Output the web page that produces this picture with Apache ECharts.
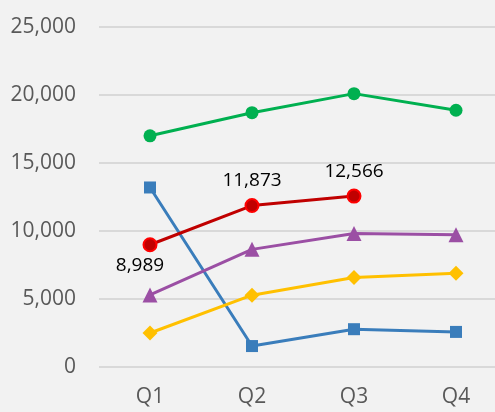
<!DOCTYPE html>
<html>
<head>
<meta charset="utf-8">
<script src="https://cdn.jsdelivr.net/npm/echarts@6/dist/echarts.min.js"></script>
<style>
  html, body { margin: 0; padding: 0; background: #f2f2f2; }
  #chart { width: 495px; height: 412px; }
</style>
</head>
<body>
<div id="chart"></div>
<script>
const quarters = ['Q1', 'Q2', 'Q3', 'Q4']
const greenValues = [17000, 18700, 20100, 18880]
const blueValues = [13200, 1540, 2780, 2580]
const redValues = [8989, 11873, 12566, null]
const purpleValues = [5300, 8650, 9820, 9720]
const yellowValues = [2500, 5280, 6580, 6900]

const chart = echarts.init(document.getElementById('chart'))

// simple helper for the plain line series
const lineSeries = (name, data, color, symbol, size) => ({
  name,
  type: 'line',
  data,
  symbol,
  symbolSize: size,
  lineStyle: { width: 3, color },
  itemStyle: { color },
  emphasis: { disabled: true }
})

chart.setOption({
  backgroundColor: '#f2f2f2',
  animation: false,
  grid: { left: 99, width: 408, top: 27, bottom: 45, outerBoundsMode: 'none', containLabel: false },
  xAxis: {
    type: 'category',
    data: quarters,
    axisLine: { show: false },
    axisTick: { show: false },
    axisLabel: { color: '#595959', fontSize: 21, fontFamily: 'Open Sans', margin: 20 }
  },
  yAxis: {
    type: 'value',
    min: 0,
    max: 25000,
    interval: 5000,
    axisLabel: {
      color: '#595959',
      fontSize: 21,
      fontFamily: 'Open Sans',
      margin: 23,
      formatter: v => v.toLocaleString('en-US')
    },
    splitLine: { lineStyle: { color: '#d9d9d9', width: 2 } }
  },
  series: [
    lineSeries('Green', greenValues, '#00b050', 'circle', 13),
    lineSeries('Blue', blueValues, '#3a7dbb', 'rect', 12),
    lineSeries('Purple', purpleValues, '#9b4fa4', 'triangle', 15),
    lineSeries('Yellow', yellowValues, '#ffc000', 'diamond', 15),
    {
      name: 'Red',
      type: 'line',
      data: redValues,
      symbol: 'circle',
      symbolSize: 13,
      lineStyle: { width: 3, color: '#c00000' },
      itemStyle: { color: '#c00000', borderColor: '#ff0000', borderWidth: 2 },
      label: {
        show: true,
        position: 'top',
        distance: 8,
        color: '#000',
        fontSize: 19,
        fontFamily: 'Open Sans',
        formatter: p => p.value.toLocaleString('en-US')
      },
      labelLayout: p => p.dataIndex === 0 ? { dy: 46, dx: -10 } : {},
      emphasis: { disabled: true }
    }
  ]
})
</script>
</body>
</html>
